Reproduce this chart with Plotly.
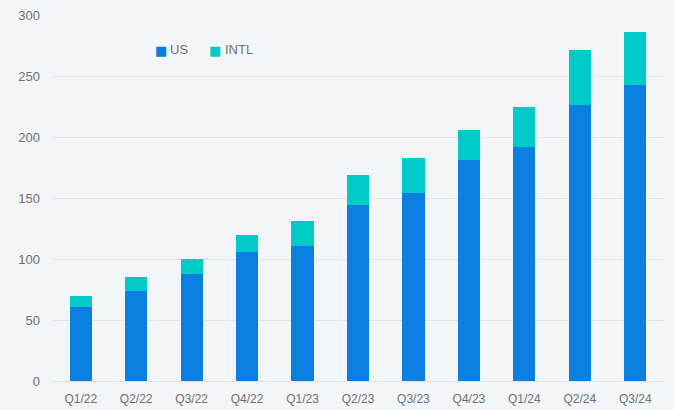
import plotly.graph_objects as go

quarters = ["Q1/22", "Q2/22", "Q3/22", "Q4/22", "Q1/23", "Q2/23", "Q3/23", "Q4/23", "Q1/24", "Q2/24", "Q3/24"]
us = [61, 74, 88, 106, 111, 144, 154, 181, 192, 226, 243]
intl = [9, 11, 12, 14, 20, 25, 29, 25, 33, 45, 43]
y_ticks = [0, 50, 100, 150, 200, 250, 300]
series_names = ["US", "INTL"]
series_colors = ["#0a7fe0", "#00cbc8"]

fig = go.Figure()
fig.add_trace(go.Bar(x=quarters, y=us, name=series_names[0], marker=dict(color=series_colors[0], line=dict(width=0))))
fig.add_trace(go.Bar(x=quarters, y=intl, name=series_names[1], marker=dict(color=series_colors[1], line=dict(width=0))))

L, R, T, B = 53, 11, 15, 29
W, H = 674, 410
pw, ph = W - L - R, H - T - B

def px_x(p):
    return (p - L) / pw

def px_y(p):
    return (H - B - p) / ph

# custom legend (compact, like the reference)
legend_pos = [(154, 168), (208, 223)]
for (sq, tx), name, col in zip(legend_pos, series_names, series_colors):
    fig.add_annotation(x=px_x(sq - 1), y=px_y(50), xref="paper", yref="paper",
                       text="■", showarrow=False, xanchor="left", yanchor="middle",
                       font=dict(family="DejaVu Sans", size=13, color=col))
    fig.add_annotation(x=px_x(tx), y=px_y(49), xref="paper", yref="paper",
                       text=name, showarrow=False, xanchor="left", yanchor="middle",
                       font=dict(size=13, color="#707070"))

fig.update_layout(
    barmode="stack",
    bargap=0.6,
    width=W, height=H,
    margin=dict(l=L, r=R, t=T, b=B, autoexpand=False),
    paper_bgcolor="#f3f6f8",
    plot_bgcolor="#f3f6f8",
    font=dict(family="Liberation Sans, Arial, sans-serif", size=13, color="#707070"),
    showlegend=False,
)
fig.update_xaxes(showgrid=False, showline=False, ticks="", tickfont=dict(size=12), zeroline=False,
                 ticklabelstandoff=9, automargin=False)
fig.update_yaxes(range=[0, 300], tickvals=y_ticks, showgrid=True, gridcolor="#dfe3e7", gridwidth=1,
                 zeroline=True, zerolinecolor="#dfe3e7", zerolinewidth=1, ticks="", ticklabelstandoff=12,
                 automargin=False)

fig.write_html("out.html")
